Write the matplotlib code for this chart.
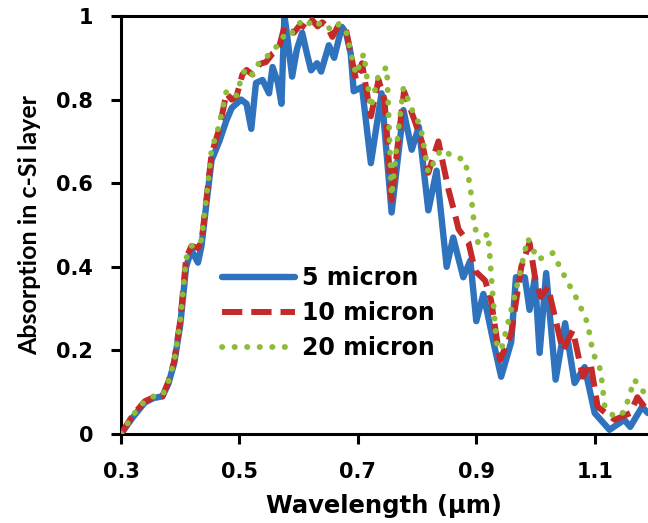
import matplotlib
matplotlib.use("Agg")
import matplotlib.pyplot as plt

# 5 micron
x5 = [0.30, 0.32, 0.34, 0.355, 0.37, 0.38, 0.39, 0.40, 0.41, 0.419, 0.43, 0.436, 0.445, 0.453,
      0.466, 0.478, 0.487, 0.503, 0.512, 0.52, 0.528, 0.539, 0.55, 0.556, 0.565, 0.571, 0.576,
      0.58, 0.589, 0.597, 0.606, 0.614, 0.621, 0.631, 0.638, 0.651, 0.66, 0.673, 0.68, 0.688,
      0.693, 0.707, 0.722, 0.74, 0.757, 0.777, 0.791, 0.803, 0.819, 0.833, 0.85, 0.861, 0.878,
      0.89, 0.90, 0.912, 0.929, 0.942, 0.959, 0.967, 0.982, 0.99, 0.999, 1.007, 1.018, 1.034,
      1.05, 1.066, 1.083, 1.10, 1.125, 1.15, 1.16, 1.18, 1.19]
y5 = [0.0, 0.04, 0.075, 0.086, 0.09, 0.12, 0.17, 0.26, 0.40, 0.44, 0.41, 0.45, 0.56, 0.655,
      0.70, 0.75, 0.78, 0.80, 0.79, 0.73, 0.84, 0.847, 0.815, 0.878, 0.84, 0.79, 1.0,
      0.96, 0.855, 0.92, 0.96, 0.91, 0.87, 0.887, 0.867, 0.93, 0.90, 0.974, 0.96, 0.91,
      0.82, 0.83, 0.648, 0.815, 0.53, 0.775, 0.68, 0.735, 0.535, 0.63, 0.40, 0.47, 0.375,
      0.415, 0.27, 0.335, 0.22, 0.137, 0.22, 0.375, 0.375, 0.297, 0.375, 0.194, 0.385, 0.13,
      0.265, 0.122, 0.16, 0.05, 0.01, 0.034, 0.017, 0.065, 0.05]

# 10 micron
x10 = [0.30, 0.32, 0.34, 0.355, 0.37, 0.38, 0.39, 0.40, 0.41, 0.419, 0.43, 0.436, 0.445, 0.453,
       0.466, 0.478, 0.487, 0.495, 0.505, 0.512, 0.522, 0.534, 0.545, 0.556, 0.566, 0.576,
       0.584, 0.592, 0.603, 0.613, 0.623, 0.632, 0.64, 0.648, 0.657, 0.668, 0.68, 0.69, 0.697,
       0.707, 0.722, 0.735, 0.745, 0.757, 0.768, 0.778, 0.797, 0.808, 0.819, 0.836, 0.853,
       0.865, 0.87, 0.887, 0.898, 0.915, 0.925, 0.94, 0.959, 0.976, 0.99, 1.0, 1.009, 1.021,
       1.034, 1.046, 1.063, 1.08, 1.093, 1.105, 1.134, 1.16, 1.172, 1.184, 1.19]
y10 = [0.0, 0.045, 0.078, 0.088, 0.09, 0.125, 0.175, 0.27, 0.42, 0.45, 0.445, 0.46, 0.57, 0.67,
       0.73, 0.815, 0.80, 0.807, 0.86, 0.871, 0.86, 0.885, 0.89, 0.91, 0.92, 0.975,
       0.965, 0.96, 0.98, 0.97, 0.99, 0.975, 0.985, 0.975, 0.95, 0.98, 0.967, 0.895, 0.847,
       0.887, 0.76, 0.847, 0.80, 0.56, 0.70, 0.82, 0.745, 0.70, 0.625, 0.70, 0.585,
       0.52, 0.49, 0.457, 0.39, 0.367, 0.32, 0.177, 0.24, 0.40, 0.457, 0.368, 0.328, 0.352,
       0.273, 0.20, 0.248, 0.137, 0.17, 0.065, 0.034, 0.05, 0.088, 0.065, 0.07]

# 20 micron
x20 = [0.30, 0.32, 0.34, 0.355, 0.37, 0.38, 0.39, 0.40, 0.41, 0.419, 0.43, 0.436, 0.445, 0.453,
       0.466, 0.478, 0.487, 0.495, 0.505, 0.512, 0.522, 0.534, 0.545, 0.556, 0.566, 0.576,
       0.584, 0.592, 0.603, 0.613, 0.623, 0.632, 0.64, 0.648, 0.657, 0.668, 0.68, 0.69, 0.697,
       0.71, 0.722, 0.735, 0.749, 0.757, 0.768, 0.777, 0.79, 0.806, 0.819, 0.84, 0.858, 0.881,
       0.89, 0.895, 0.903, 0.92, 0.925, 0.934, 0.942, 0.966, 0.987, 1.004, 1.029, 1.05, 1.071,
       1.088, 1.097, 1.11, 1.117, 1.134, 1.15, 1.167, 1.184, 1.19]
y20 = [0.0, 0.045, 0.078, 0.09, 0.092, 0.125, 0.175, 0.27, 0.42, 0.45, 0.45, 0.465, 0.575, 0.68,
       0.74, 0.82, 0.81, 0.81, 0.86, 0.875, 0.86, 0.89, 0.90, 0.92, 0.93, 0.955,
       0.95, 0.965, 0.985, 0.975, 0.99, 0.98, 0.985, 0.975, 0.965, 0.98, 0.965, 0.90, 0.86,
       0.91, 0.78, 0.86, 0.878, 0.57, 0.72, 0.828, 0.78, 0.735, 0.625, 0.68, 0.667, 0.655,
       0.59, 0.52, 0.457, 0.48, 0.385, 0.218, 0.20, 0.337, 0.468, 0.417, 0.433, 0.375, 0.32,
       0.265, 0.194, 0.153, 0.065, 0.04, 0.053, 0.13, 0.098, 0.10]

labels = ["5 micron", "10 micron", "20 micron"]
xticks = [0.3, 0.5, 0.7, 0.9, 1.1]
xticklabels = ["0.3", "0.5", "0.7", "0.9", "1.1"]
yticks = [0, 0.2, 0.4, 0.6, 0.8, 1.0]
yticklabels = ["0", "0.2", "0.4", "0.6", "0.8", "1"]

fig = plt.figure(figsize=(6.48, 5.23), dpi=100)
ax = fig.add_axes([0.1867, 0.1702, 0.8133, 0.7992])

blue = "#2f72bd"
red = "#c42a2a"
green = "#8dbb3a"

ax.plot(x5, y5, color=blue, lw=4.6, solid_joinstyle="round", solid_capstyle="round",
        label=labels[0], zorder=2)
ax.plot(x10, y10, color=red, lw=4.3, linestyle=(0, (3.4, 1.5)), dash_capstyle="butt",
        dash_joinstyle="round", label=labels[1], zorder=3)
ax.plot(x20, y20, color=green, lw=4.2, linestyle=(0, (0.05, 2.1)), dash_capstyle="round",
        label=labels[2], zorder=4)

ax.set_xlim(0.3, 1.19)
ax.set_ylim(0, 1)
ax.set_xticks(xticks)
ax.set_xticklabels(xticklabels)
ax.set_yticks(yticks)
ax.set_yticklabels(yticklabels)

for s in ["left", "bottom", "top"]:
    ax.spines[s].set_linewidth(2.2)
    ax.spines[s].set_color("black")
ax.spines["right"].set_visible(False)

ax.tick_params(axis="both", direction="out", length=7, width=2.2, color="black")
ax.tick_params(axis="x", pad=13)
ax.tick_params(axis="y", pad=13)
for lab in ax.get_xticklabels() + ax.get_yticklabels():
    lab.set_fontfamily("DejaVu Sans")
    lab.set_fontweight("bold")
    lab.set_fontsize(15)

ax.set_xlabel("Wavelength (µm)", fontfamily="DejaVu Sans", fontweight="bold", fontsize=17.5,
              labelpad=9)
ax.set_ylabel("Absorption in c-Si layer", fontfamily="Lato", fontweight="bold", fontsize=18,
              labelpad=11)

leg = ax.legend(loc="upper left", bbox_to_anchor=(0.174, 0.425), frameon=False,
                prop={"family": "DejaVu Sans", "weight": "bold", "size": 17},
                handlelength=3.1, handletextpad=0.3, labelspacing=0.47, borderaxespad=0)

fig.savefig("out.png", dpi=100)
